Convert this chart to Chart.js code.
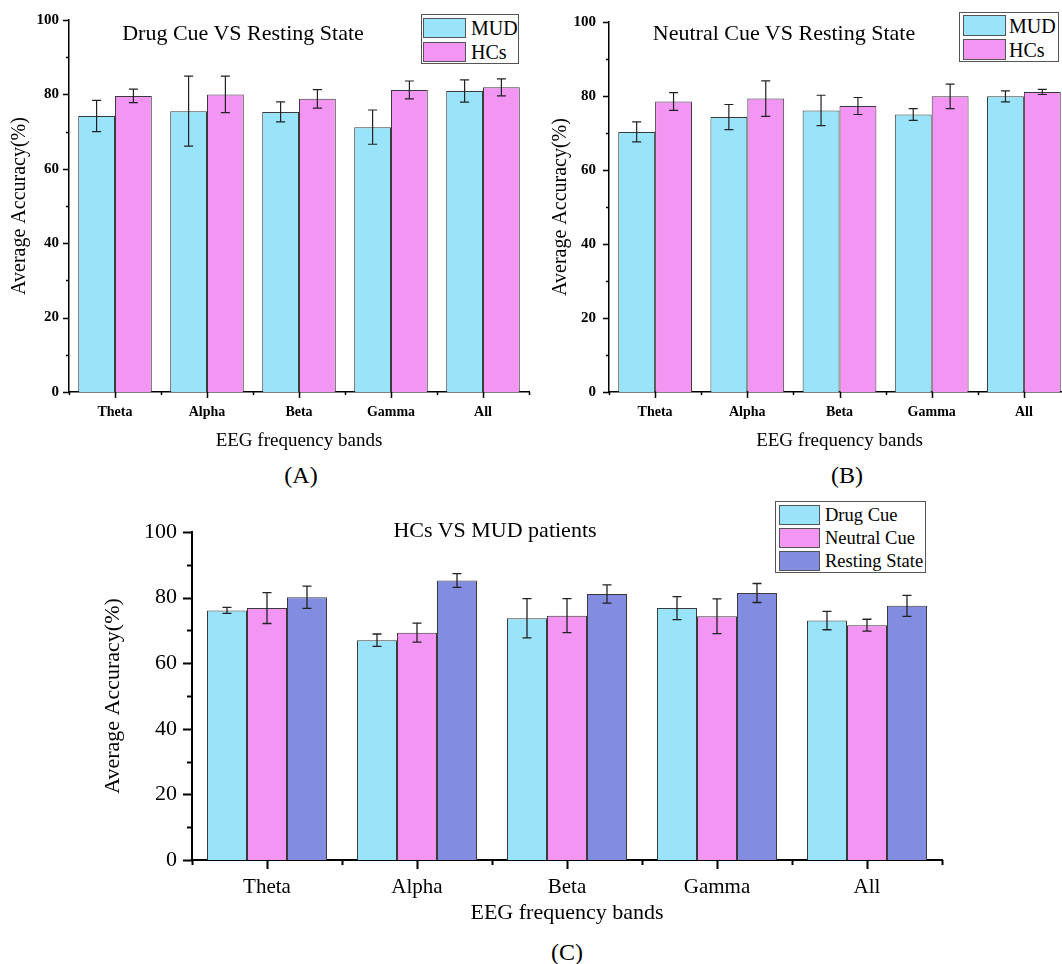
<!DOCTYPE html>
<html>
<head>
<meta charset="utf-8">
<script src="https://cdn.jsdelivr.net/npm/chart.js@4.4.1/dist/chart.umd.min.js"></script>
<style>
  html, body { margin: 0; padding: 0; background: #fff; }
  body { width: 1062px; height: 964px; position: relative; overflow: hidden; font-family: 'Liberation Serif', 'Times New Roman', serif; color: #000; }
  canvas { position: absolute; }
  .c { position: absolute; transform: translate(-50%, -50%); white-space: nowrap; line-height: 1; }
  .legend { position: absolute; border: 1px solid #555; background: #fff; box-sizing: border-box; }
  .legend .sw { position: absolute; border: 1px solid #555; box-sizing: border-box; }
  .legend .tx { position: absolute; transform: translateY(-50%); line-height: 1; white-space: nowrap; }
</style>
</head>
<body>
<canvas id="chartA" width="535" height="452" style="left:0px;top:0px"></canvas>
<canvas id="chartB" width="540" height="452" style="left:535px;top:0px"></canvas>
<canvas id="chartC" width="870" height="445" style="left:90px;top:490px"></canvas>

<div class="c" style="left:243px;top:33px;font-size:22px">Drug Cue VS Resting State</div>
<div class="c" style="left:784px;top:33px;font-size:22px">Neutral Cue VS Resting State</div>
<div class="c" style="left:495px;top:530px;font-size:22px">HCs VS MUD patients</div>
<div class="c" style="left:301px;top:475px;font-size:24px">(A)</div>
<div class="c" style="left:847px;top:475px;font-size:24px">(B)</div>
<div class="c" style="left:567px;top:952px;font-size:24px">(C)</div>

<div class="legend" style="left:421px;top:14px;width:98px;height:50px">
  <div class="sw" style="left:1px;top:3px;width:43px;height:20px;background:#99E4FA"></div>
  <div class="tx" style="left:49px;top:13px;font-size:20px">MUD</div>
  <div class="sw" style="left:1px;top:27px;width:43px;height:20px;background:#F295F3"></div>
  <div class="tx" style="left:49px;top:37px;font-size:20px">HCs</div>
</div>
<div class="legend" style="left:959px;top:12px;width:100px;height:50px">
  <div class="sw" style="left:3px;top:2px;width:43px;height:21px;background:#99E4FA"></div>
  <div class="tx" style="left:49px;top:13px;font-size:20px">MUD</div>
  <div class="sw" style="left:3px;top:26px;width:43px;height:21px;background:#F295F3"></div>
  <div class="tx" style="left:49px;top:37px;font-size:20px">HCs</div>
</div>
<div class="legend" style="left:775px;top:501px;width:151px;height:72px">
  <div class="sw" style="left:3px;top:3px;width:41px;height:20px;background:#99E4FA"></div>
  <div class="tx" style="left:49px;top:13px;font-size:18.5px">Drug Cue</div>
  <div class="sw" style="left:3px;top:26px;width:41px;height:20px;background:#F295F3"></div>
  <div class="tx" style="left:49px;top:36px;font-size:18.5px">Neutral Cue</div>
  <div class="sw" style="left:3px;top:49px;width:41px;height:20px;background:#828CE0"></div>
  <div class="tx" style="left:49px;top:59px;font-size:18.5px">Resting State</div>
</div>

<script>
// categories and tick labels
const bands = ['Theta', 'Alpha', 'Beta', 'Gamma', 'All'];
const yTicks = [0, 20, 40, 60, 80, 100];

// (A) Drug Cue VS Resting State
const mudA = [74.2, 75.5, 75.3, 71.2, 80.9];
const mudAErr = [4.2, 9.4, 2.7, 4.6, 3.0];
const hcA = [79.6, 80.0, 78.8, 81.2, 81.9];
const hcAErr = [1.8, 4.9, 2.5, 2.4, 2.3];

// (B) Neutral Cue VS Resting State
const mudB = [70.3, 74.3, 76.1, 75.0, 79.9];
const mudBErr = [2.7, 3.4, 4.1, 1.6, 1.5];
const hcB = [78.5, 79.3, 77.3, 79.9, 81.1];
const hcBErr = [2.4, 4.8, 2.3, 3.3, 0.7];

// (C) HCs VS MUD patients
const drugC = [76.1, 67.0, 73.7, 76.8, 73.0];
const drugCErr = [0.9, 1.9, 6.0, 3.5, 2.8];
const neutralC = [76.8, 69.3, 74.5, 74.3, 71.6];
const neutralCErr = [4.7, 2.9, 5.2, 5.3, 1.8];
const restC = [80.1, 85.2, 81.1, 81.4, 77.5];
const restCErr = [3.4, 2.1, 2.8, 2.9, 3.2];

const cyan = '#99E4FA';
const pink = '#F295F3';
const purple = '#828CE0';
const serif = "'Liberation Serif', 'Times New Roman', serif";

Chart.defaults.color = '#000';
Chart.defaults.font.family = serif;

// error bars drawn from the bar elements and the y scale
const errorBars = {
    id: 'errorBars',
    afterDatasetsDraw(chart, args, opts) {
        const ctx = chart.ctx;
        const y = chart.scales.y;
        ctx.save();
        ctx.strokeStyle = '#222';
        ctx.lineWidth = opts.width || 1.2;
        chart.data.datasets.forEach((ds, di) => {
            chart.getDatasetMeta(di).data.forEach((bar, i) => {
                const top = y.getPixelForValue(ds.data[i] + ds.errors[i]);
                const bot = y.getPixelForValue(ds.data[i] - ds.errors[i]);
                const half = (opts.cap || 9) / 2;
                ctx.beginPath();
                ctx.moveTo(bar.x, top); ctx.lineTo(bar.x, bot);
                ctx.moveTo(bar.x - half, top); ctx.lineTo(bar.x + half, top);
                ctx.moveTo(bar.x - half, bot); ctx.lineTo(bar.x + half, bot);
                ctx.stroke();
            });
        });
        ctx.restore();
    }
};

// outward tick marks, major and minor, on both axes
const axisTicks = {
    id: 'axisTicks',
    afterDraw(chart, args, opts) {
        const {ctx, chartArea, scales: {x, y}} = chart;
        ctx.save();
        ctx.strokeStyle = '#000';
        ctx.lineWidth = opts.width;
        ctx.beginPath();
        for (let v = 0; v <= 100; v += 10) {
            const py = Math.round(y.getPixelForValue(v)) + 0.5;
            const len = v % 20 === 0 ? opts.major : opts.minor;
            ctx.moveTo(chartArea.left, py);
            ctx.lineTo(chartArea.left - len, py);
        }
        for (let i = 0; i < bands.length; i++) {
            const px = Math.round(x.getPixelForValue(i)) + 0.5;
            ctx.moveTo(px, chartArea.bottom);
            ctx.lineTo(px, chartArea.bottom + opts.major);
        }
        for (let i = 0; i <= bands.length; i++) {
            const px = Math.round(x.getPixelForValue(i - 0.5)) + 0.5;
            ctx.moveTo(px, chartArea.bottom);
            ctx.lineTo(px, chartArea.bottom + opts.minor);
        }
        ctx.stroke();
        ctx.restore();
    }
};

function makeChart(id, datasets, s) {
    return new Chart(document.getElementById(id), {
        type: 'bar',
        data: {
            labels: bands,
            datasets: datasets.map(d => ({
                data: d.data,
                errors: d.errors,
                backgroundColor: d.color,
                borderColor: '#3a3a3a',
                borderWidth: 1,
                categoryPercentage: 0.8,
                barPercentage: 1.0
            }))
        },
        options: {
            responsive: false,
            animation: false,
            devicePixelRatio: 1,
            layout: { padding: s.padding },
            plugins: {
                legend: { display: false },
                tooltip: { enabled: false },
                errorBars: { cap: s.cap, width: s.errWidth },
                axisTicks: { major: s.major, minor: s.minor, width: s.axisWidth }
            },
            scales: {
                x: {
                    grid: { display: false, drawTicks: false },
                    border: { display: true, color: '#000', width: s.axisWidth },
                    ticks: { font: s.xTickFont, padding: s.xTickPad, maxRotation: 0 },
                    title: { display: true, text: 'EEG frequency bands', font: s.titleFont, padding: { top: 0, bottom: s.xTitlePad } },
                    afterFit: sc => { sc.height = s.xHeight; }
                },
                y: {
                    min: 0,
                    max: 100,
                    grid: { display: false, drawTicks: false },
                    border: { display: true, color: '#000', width: s.axisWidth },
                    afterBuildTicks: sc => { sc.ticks = yTicks.map(v => ({ value: v })); },
                    ticks: { font: s.yTickFont, padding: s.yTickPad },
                    title: { display: true, text: 'Average Accuracy(%)', font: s.yTitleFont, padding: { top: s.yTitlePad, bottom: 0 } },
                    afterFit: sc => { sc.width = s.yWidth; }
                }
            }
        },
        plugins: [errorBars, axisTicks]
    });
}

const smallStyle = {
    cap: 9, errWidth: 1.2, major: 6, minor: 3, axisWidth: 1.5,
    xTickFont: { size: 14, weight: 'bold' }, xTickPad: 12,
    yTickFont: { size: 15, weight: 'bold' },
    titleFont: { size: 19 }, xTitlePad: 0, xHeight: 60,
    yTitleFont: { size: 20 }
};

makeChart('chartA', [
    { data: mudA, errors: mudAErr, color: cyan },
    { data: hcA, errors: hcAErr, color: pink }
], Object.assign({}, smallStyle, {
    padding: { top: 20, right: 6, bottom: 0, left: 0 },
    yWidth: 69, yTickPad: 10, yTitlePad: 8
}));

makeChart('chartB', [
    { data: mudB, errors: mudBErr, color: cyan },
    { data: hcB, errors: hcBErr, color: pink }
], Object.assign({}, smallStyle, {
    padding: { top: 20, right: 5, bottom: 0, left: 0 },
    yWidth: 74, yTickPad: 13, yTitlePad: 14
}));

makeChart('chartC', [
    { data: drugC, errors: drugCErr, color: cyan },
    { data: neutralC, errors: neutralCErr, color: pink },
    { data: restC, errors: restCErr, color: purple }
], {
    padding: { top: 42, right: 18, bottom: 0, left: 0 },
    cap: 9, errWidth: 1.3, major: 9, minor: 5, axisWidth: 2,
    xTickFont: { size: 21 }, xTickPad: 15,
    yTickFont: { size: 22 }, yTickPad: 15,
    titleFont: { size: 22 }, xTitlePad: 9, xHeight: 75,
    yTitleFont: { size: 22 }, yTitlePad: 10, yWidth: 102
});
</script>
</body>
</html>
